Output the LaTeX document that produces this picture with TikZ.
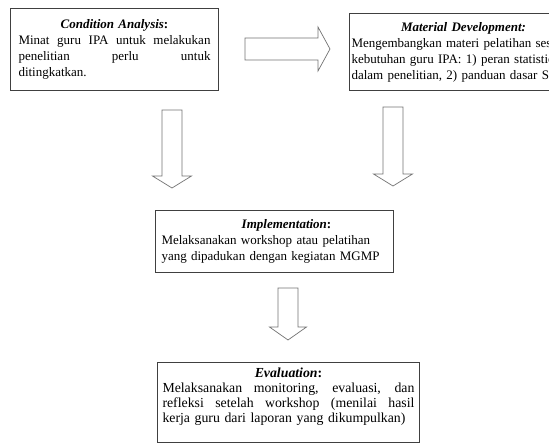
\documentclass[tikz,border=0pt]{standalone}
\usepackage{fontspec}
\setmainfont{Liberation Serif}
\usetikzlibrary{positioning}

\tikzset{
	stagebox/.style={draw=black!75, line width=1pt, inner xsep=6pt, inner ysep=4pt,
		anchor=north west, align=left, font=\fontsize{13}{16}\selectfont},
	blockarrow/.style={draw=black!55, line width=0.7pt, fill=white}
}
% one line of a justified paragraph
\newcommand{\spreadline}[1]{\leavevmode\hbox to \hsize{\spaceskip=.25em plus 1fil\relax #1}}
% block arrows pointing down and right
\newcommand{\downblock}[4]{\draw[blockarrow] (#1) ++(-10,0) -- ++(0,#2) -- ++(-#3,0) -- ++(10+#3,#4) -- ++(10+#3,-#4) -- ++(-#3,0) -- ++(0,-#2) -- cycle;}
\newcommand{\rightblock}[4]{\draw[blockarrow] (#1) ++(0,-11) -- ++(#2,0) -- ++(0,-#3) -- ++(#4,11+#3) -- ++(-#4,11+#3) -- ++(0,-#3) -- ++(-#2,0) -- cycle;}

\begin{document}
\begin{tikzpicture}[x=1pt, y=-1pt]
	\useasboundingbox (0,0) rectangle (549,444);
	\clip (0,0) rectangle (549,444);

	\node[stagebox, text width=192pt, inner xsep=8pt, minimum height=82pt] (cond) at (10,8)
		{\makebox[\hsize]{\textbf{\textit{Condition Analysis}:}}\\
		\spreadline{Minat guru IPA untuk melakukan}\\
		\spreadline{penelitian perlu untuk}\\
		ditingkatkan.};
	\node[stagebox, text width=224pt, inner xsep=2pt, minimum height=77pt] (matdev) at (349,13)
		{\makebox[\hsize]{\textbf{\textit{Material Development:}}}\\
		Mengembangkan materi pelatihan sesuai\\
		kebutuhan guru IPA: 1) peran statistic\\
		dalam penelitian, 2) panduan dasar SPSS};
	\node[stagebox, text width=226pt, minimum height=62pt] (impl) at (155,210)
		{\makebox[\hsize]{\hspace{24pt}\textbf{\textit{Implementation}:}}\\
		Melaksanakan workshop atau pelatihan\\
		yang dipadukan dengan kegiatan MGMP};
	\node[stagebox, text width=252pt, inner xsep=5pt, inner ysep=5pt,
		font=\fontsize{13.8}{15}\selectfont] (eval) at (157,362)
		{\makebox[\hsize]{\textbf{\textit{Evaluation}:}}\\
		\spreadline{Melaksanakan monitoring, evaluasi, dan}\\
		\spreadline{refleksi setelah workshop (menilai hasil}\\
		kerja guru dari laporan yang dikumpulkan)\\
		\rule{0pt}{12pt}};

	% arrows between the stages
	\coordinate (ar1) at (245,49);
	\coordinate (ar2) at (172,110);
	\coordinate (ar3) at (393,107);
	\coordinate (ar4) at (288,288);
	\rightblock{ar1}{73}{11}{12}
	\downblock{ar2}{66}{9.5}{12}
	\downblock{ar3}{67}{9.5}{12}
	\downblock{ar4}{39}{8.5}{13}

\end{tikzpicture}
\end{document}
